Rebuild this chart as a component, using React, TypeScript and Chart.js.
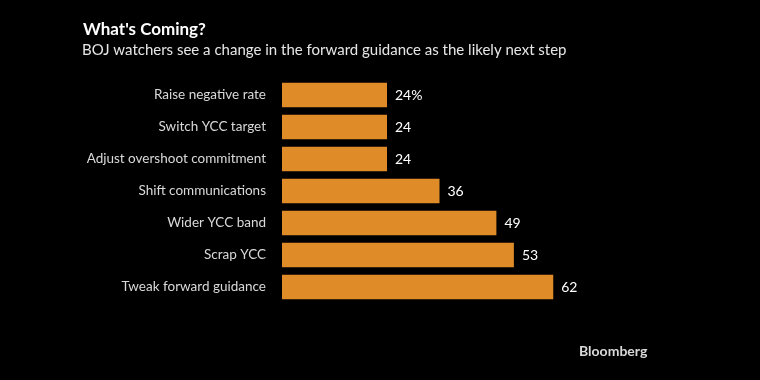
import React, { useEffect, useRef } from "react";
import { Chart, registerables } from "chart.js";

Chart.register(...registerables);

const categories = [
  "Raise negative rate",
  "Switch YCC target",
  "Adjust overshoot commitment",
  "Shift communications",
  "Wider YCC band",
  "Scrap YCC",
  "Tweak forward guidance",
];
const values = [24, 24, 24, 36, 49, 53, 62];
const valueLabels = ["24%", "24", "24", "36", "49", "53", "62"];

const titleText = "What's Coming?";
const subtitleText = "BOJ watchers see a change in the forward guidance as the likely next step";
const sourceText = "Bloomberg";

const FONT = "Lato, 'Noto Sans', sans-serif";
const BAR_COLOR = "rgb(223,140,40)";

export default function App() {
  const ref = useRef<HTMLCanvasElement | null>(null);

  useEffect(() => {
    if (!ref.current) return;
    const textPlugin = {
      id: "texts",
      afterDraw(chart: any) {
        const ctx = chart.ctx;
        ctx.save();
        ctx.textBaseline = "alphabetic";
        ctx.textAlign = "left";
        ctx.fillStyle = "#ffffff";
        ctx.font = `bold 17px ${FONT}`;
        ctx.fillText(titleText, 83, 35);
        ctx.fillStyle = "#e6e6e6";
        ctx.font = `15px ${FONT}`;
        ctx.fillText(subtitleText, 82, 55);
        ctx.fillStyle = "#d9d9d9";
        ctx.font = `bold 14px ${FONT}`;
        ctx.fillText(sourceText, 579, 356);
        // value labels
        const meta = chart.getDatasetMeta(0);
        ctx.fillStyle = "#ffffff";
        ctx.font = `14px ${FONT}`;
        ctx.textBaseline = "middle";
        meta.data.forEach((bar: any, i: number) => {
          ctx.fillText(valueLabels[i], bar.x + 8, bar.y);
        });
        ctx.restore();
      },
    };
    const chart = new Chart(ref.current, {
      type: "bar",
      data: {
        labels: categories,
        datasets: [
          {
            data: values,
            backgroundColor: BAR_COLOR,
            borderWidth: 0,
            barPercentage: 0.77,
            categoryPercentage: 1,
          },
        ],
      },
      options: {
        indexAxis: "y",
        animation: false,
        responsive: false,
        maintainAspectRatio: false,
        layout: { padding: { left: 0, right: 128, top: 79, bottom: 77 } },
        plugins: {
          legend: { display: false },
          tooltip: { enabled: false },
          title: { display: false },
        },
        scales: {
          x: { display: false, min: 0, max: 80 },
          y: {
            grid: { display: false },
            border: { display: false },
            ticks: {
              color: "#d9d9d9",
              font: { family: FONT, size: 13.5 },
              padding: 8,
            },
            afterFit(scale: any) {
              scale.width = 282;
            },
          },
        },
      },
      plugins: [textPlugin],
    });
    return () => chart.destroy();
  }, []);

  return (
    <div style={{ position: "absolute", left: 0, top: 0, width: 760, height: 380, background: "#000" }}>
      <canvas ref={ref} width={760} height={380} style={{ width: 760, height: 380, display: "block" }} />
    </div>
  );
}
